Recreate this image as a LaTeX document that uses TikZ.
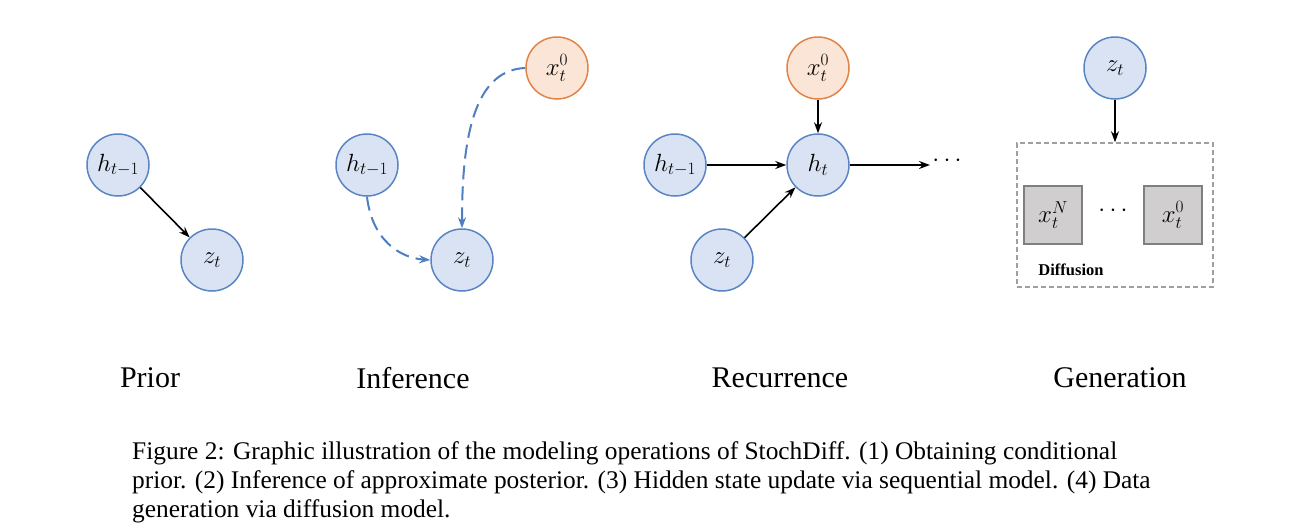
\documentclass[tikz,border=0pt]{standalone}
\usepackage{fontspec}
\setmainfont{Liberation Serif}
\usetikzlibrary{arrows.meta}
\definecolor{bfill}{HTML}{DAE3F3}
\definecolor{bdraw}{HTML}{5B84C4}
\definecolor{ofill}{HTML}{FBE5D6}
\definecolor{odraw}{HTML}{E08448}
\definecolor{gfill}{HTML}{D0CECE}
\definecolor{gdraw}{HTML}{7F7F7F}
\definecolor{dash}{HTML}{4F7FC0}
\begin{document}
\begin{tikzpicture}[x=1pt,y=-1pt,
  v/.style={circle,minimum size=62pt,inner sep=0pt,fill=bfill,draw=bdraw,line width=1.5pt,font=\fontsize{27}{32}\selectfont},
  o/.style={v,fill=ofill,draw=odraw},
  sq/.style={rectangle,minimum size=58pt,inner sep=0pt,fill=gfill,draw=gdraw,line width=1.2pt,font=\fontsize{25}{30}\selectfont},
  arr/.style={-{Stealth[length=11pt,width=8pt]},line width=1.6pt},
  darr/.style={-{Stealth[length=11pt,width=8pt]},line width=2pt,dash pattern=on 14pt off 7pt,draw=dash,color=dash},
  lab/.style={font=\fontsize{30}{36}\selectfont},
  captxt/.style={font=\fontsize{25.4}{29}\selectfont,anchor=north west,inner sep=0pt}]
\useasboundingbox (0,0) rectangle (1299,531);
% Prior
\node[v] (p1) at (118,165) {$h_{t-1}$};
\node[v] (p2) at (212,260) {$z_t$};
\draw[arr] (p1) -- (p2);
% Inference
\node[v] (i1) at (367,165) {$h_{t-1}$};
\node[v] (i2) at (462,260) {$z_t$};
\node[o] (i3) at (557,68) {$x_t^0$};
\draw[darr] (i1.south) .. controls (372,240) and (400,258) .. (i2.west);
\draw[darr] (i3.west) .. controls (470,70) and (462,150) .. (i2.north);
% Recurrence
\node[o] (r0) at (818,68) {$x_t^0$};
\node[v] (r1) at (675,165) {$h_{t-1}$};
\node[v] (r2) at (818,165) {$h_t$};
\node[v] (r3) at (722,260) {$z_t$};
\coordinate (r4) at (930,165);
\draw[arr] (r0) -- (r2);
\draw[arr] (r1) -- (r2);
\draw[arr] (r3) -- (r2);
\draw[arr] (r2) -- (r4);
\node[font=\fontsize{24}{28}\selectfont] (rd) at (947,161) {$\cdots$};
% Generation
\node[v] (g0) at (1115,68) {$z_t$};
\node[draw=gray!75,dash pattern=on 5pt off 3pt,line width=1.5pt,minimum width=196pt,minimum height=144pt,inner sep=0pt] (box) at (1115,215) {};
\node[sq] (g1) at (1053,215) {$x_t^N$};
\node[sq] (g2) at (1173,215) {$x_t^0$};
\node[font=\fontsize{24}{28}\selectfont] (gd) at (1113,211) {$\cdots$};
\node[font=\fontsize{16.5}{20}\selectfont\bfseries] (gl) at (1071,270) {Diffusion};
\draw[arr] (g0) -- (box.north);
% labels
\node[lab] (l1) at (150,378) {Prior};
\node[lab] (l2) at (413,378) {Inference};
\node[lab] (l3) at (780,378) {Recurrence};
\node[lab] (l4) at (1120,378) {Generation};
% caption
\node[captxt] (c1) at (132,441) {Figure 2: Graphic illustration of the modeling operations of StochDiff. (1) Obtaining conditional};
\node[captxt] (c2) at (132,470) {prior. (2) Inference of approximate posterior. (3) Hidden state update via sequential model. (4) Data};
\node[captxt] (c3) at (132,499) {generation via diffusion model.};
\end{tikzpicture}
\end{document}
